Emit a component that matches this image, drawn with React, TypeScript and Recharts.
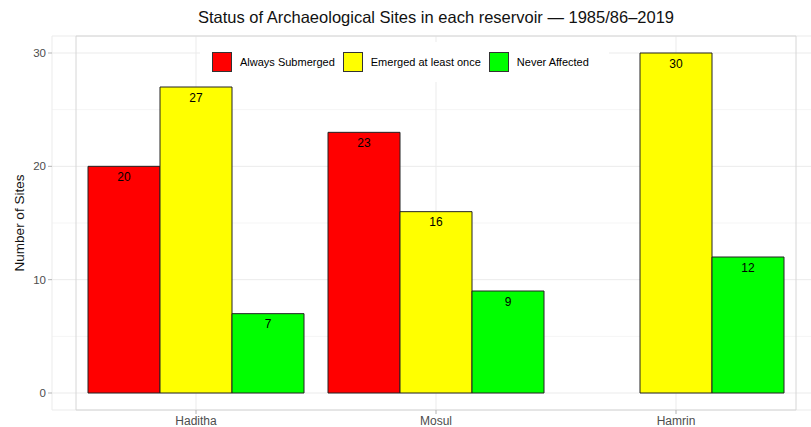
import { BarChart, Bar, XAxis, YAxis, CartesianGrid, Legend, LabelList, ReferenceArea } from 'recharts';

const reservoirs = ['Haditha', 'Mosul', 'Hamrin'];
const alwaysSubmerged = [20, 23, null];
const emergedOnce = [27, 16, 30];
const neverAffected = [7, 9, 12];
const yTicks = [0, 10, 20, 30];
const minorTicks = [5, 15, 25];

const SERIES = [
  { key: 'always', name: 'Always Submerged', color: '#FF0000' },
  { key: 'emerged', name: 'Emerged at least once', color: '#FFFF00' },
  { key: 'never', name: 'Never Affected', color: '#00FF00' },
];

const FONT = '"Liberation Sans", Arial, Helvetica, sans-serif';

const chartData = reservoirs.map((name, i) => ({
  name,
  always: alwaysSubmerged[i],
  emerged: emergedOnce[i],
  never: neverAffected[i],
}));

function LegendBox() {
  return (
    <div
      style={{
        display: 'flex',
        alignItems: 'center',
        background: '#fff',
        padding: '10px 12px',
        fontFamily: FONT,
        fontSize: 11,
        color: '#000',
      }}
    >
      {SERIES.map((s) => (
        <div key={s.key} style={{ display: 'flex', alignItems: 'center', marginRight: 8 }}>
          <span
            style={{
              width: 20,
              height: 20,
              background: s.color,
              border: '1px solid #333',
              boxSizing: 'border-box',
              display: 'inline-block',
            }}
          />
          <span style={{ marginLeft: 8, whiteSpace: 'nowrap' }}>{s.name}</span>
        </div>
      ))}
    </div>
  );
}

export default function App() {
  return (
    <div style={{ position: 'fixed', left: 0, top: 0, width: 811, height: 427, overflow: 'hidden', background: '#fff' }}>
      <div
        style={{
          position: 'absolute',
          top: 8,
          left: 52,
          width: 768,
          textAlign: 'center',
          fontFamily: FONT,
          fontSize: 16.5,
          color: '#111',
        }}
      >
        Status of Archaeological Sites in each reservoir — 1985/86–2019
      </div>
      <BarChart
        width={830}
        height={427}
        data={chartData}
        margin={{ top: 36, right: 10, left: 12, bottom: 0 }}
        barCategoryGap="5%"
        barGap={0}
        style={{ fontFamily: FONT }}
      >
        {/* minor grid first, major on top of it */}
        <CartesianGrid stroke="#f5f5f5" vertical={false} horizontalValues={minorTicks} />
        <CartesianGrid stroke="#ebebeb" />
        <ReferenceArea y1={-1.5} y2={31.5} fill="none" stroke="#d6d6d6" strokeWidth={1} />
        <XAxis
          dataKey="name"
          axisLine={false}
          tickLine={{ stroke: '#b3b3b3' }}
          tickSize={4}
          tickMargin={2}
          height={17}
          padding={{ left: 24, right: 24 }}
          tick={{ fill: '#4d4d4d', fontSize: 12 }}
        />
        <YAxis
          type="number"
          domain={[-1.5, 31.5]}
          ticks={yTicks}
          axisLine={false}
          tickLine={{ stroke: '#b3b3b3' }}
          tickSize={4}
          tickMargin={2}
          width={40}
          tick={{ fill: '#4d4d4d', fontSize: 11.5 }}
          label={{
            value: 'Number of Sites',
            angle: -90,
            position: 'insideLeft',
            offset: 7,
            style: { textAnchor: 'middle', fill: '#111', fontSize: 13.5 },
          }}
        />
        <Legend
          layout="horizontal"
          verticalAlign="middle"
          align="center"
          content={() => <LegendBox />}
          wrapperStyle={{ top: 42, left: 200, width: 'auto', height: 'auto' }}
        />
        {SERIES.map((s) => (
          <Bar
            key={s.key}
            dataKey={s.key}
            name={s.name}
            fill={s.color}
            stroke="#222"
            strokeWidth={1}
            isAnimationActive={false}
          >
            <LabelList dataKey={s.key} position="insideTop" offset={6} fill="#000" fontSize={12} />
          </Bar>
        ))}
      </BarChart>
    </div>
  );
}
